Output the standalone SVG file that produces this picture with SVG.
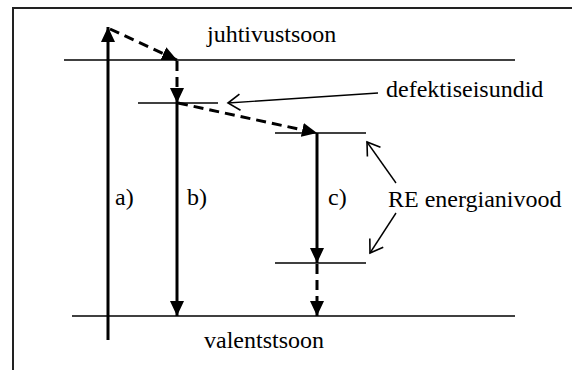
<svg xmlns="http://www.w3.org/2000/svg" width="572" height="370" viewBox="0 0 572 370">
<style>
.frame{fill:none;stroke:#222;stroke-width:2}
.level{stroke:#000;stroke-width:1.5;fill:none}
.solid{stroke:#000;stroke-width:3;fill:none}
.dash{stroke:#000;stroke-width:3;fill:none;stroke-dasharray:10 6}
.thin{stroke:#000;stroke-width:1.4;fill:none}
.lbl{font-size:24px;fill:#000}
</style>
<defs>
<marker id="fill" markerUnits="userSpaceOnUse" markerWidth="16" markerHeight="14" refX="15" refY="7" orient="auto">
<path d="M0,0 L15,7 L0,14 Z" fill="#000"/>
</marker>
<marker id="open" markerUnits="userSpaceOnUse" markerWidth="16" markerHeight="20" refX="14" refY="10" orient="auto">
<path d="M2,2 L14,10 L2,18" fill="none" stroke="#000" stroke-width="1.6"/>
</marker>
</defs>
<path class="frame" d="M13,370 V8 H572"/>
<g id="levels">
<line class="level" x1="64" y1="60" x2="515" y2="60"/>
<line class="level" x1="72" y1="316" x2="515" y2="316"/>
<line class="level" x1="138" y1="103" x2="218" y2="103"/>
<line class="level" x1="275" y1="133" x2="366" y2="133"/>
<line class="level" x1="275" y1="263" x2="366" y2="263"/>
</g>
<g id="connectors">
<line class="solid" x1="108" y1="340" x2="108" y2="27" marker-end="url(#fill)"/>
<line class="dash" x1="110" y1="29" x2="177" y2="60" marker-end="url(#fill)"/>
<line class="dash" x1="177" y1="61" x2="177" y2="103" marker-end="url(#fill)"/>
<line class="solid" x1="177" y1="103" x2="177" y2="316" marker-end="url(#fill)"/>
<line class="dash" x1="178" y1="103" x2="317" y2="133" marker-end="url(#fill)"/>
<line class="solid" x1="317" y1="133" x2="317" y2="263" marker-end="url(#fill)"/>
<line class="dash" x1="317" y1="264" x2="317" y2="316" marker-end="url(#fill)"/>
<line class="thin" x1="378" y1="93" x2="228" y2="103" marker-end="url(#open)"/>
<line class="thin" x1="396" y1="183" x2="367" y2="142" marker-end="url(#open)"/>
<line class="thin" x1="396" y1="213" x2="370" y2="253" marker-end="url(#open)"/>
</g>
<g id="labels" font-family="Liberation Serif, DejaVu Serif, serif">
<text class="lbl" x="207" y="42">juhtivustsoon</text>
<text class="lbl" x="204" y="348">valentstsoon</text>
<text class="lbl" x="386" y="97">defektiseisundid</text>
<text class="lbl" x="388" y="207">RE energianivood</text>
<text class="lbl" x="115" y="205">a)</text>
<text class="lbl" x="187" y="205">b)</text>
<text class="lbl" x="328" y="205">c)</text>
</g>
</svg>
